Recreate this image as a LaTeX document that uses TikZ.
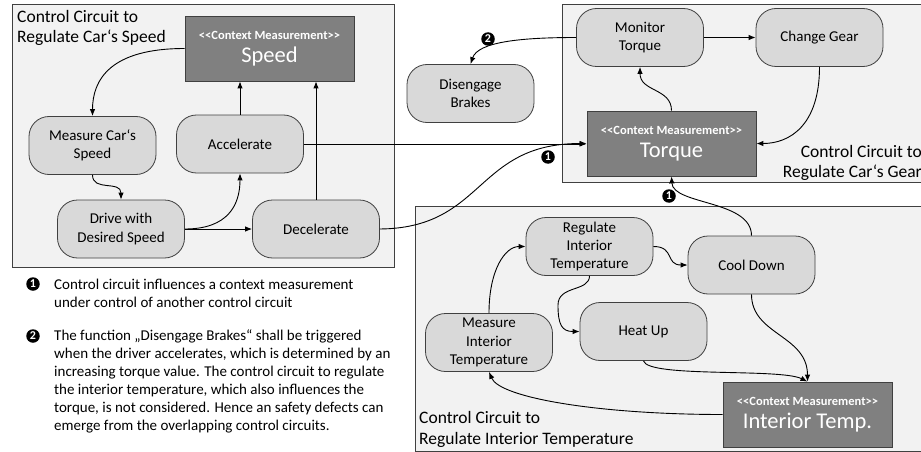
\documentclass[tikz,border=0pt]{standalone}
\usepackage{fontspec}
\setmainfont{Carlito}
\usetikzlibrary{arrows.meta}
\begin{document}
\begin{tikzpicture}[x=1pt,y=-1pt,
  panel/.style={draw=black!75,fill=black!5,line width=0.8pt},
  proc/.style={draw=black!75,fill=black!15,line width=0.8pt,rounded corners=20pt,minimum width=127pt,minimum height=58pt,align=center,inner sep=2pt,font=\fontsize{15}{18.3}\selectfont},
  meas/.style={draw=black!75,fill=black!50,line width=0.8pt,minimum width=169pt,minimum height=65pt,inner sep=0pt},
  stereo/.style={text=white,inner sep=0pt,font=\fontsize{12.5}{14}\selectfont\bfseries},
  bigt/.style={text=white,inner sep=0pt,font=\fontsize{22.5}{26}\selectfont},
  ttl/.style={inner sep=0pt,font=\fontsize{17.5}{20.5}\selectfont},
  arr/.style={-{Latex[length=7pt,width=5.5pt]},line width=0.9pt},
  mk/.style={circle,fill=black,text=white,inner sep=0pt,minimum size=13.5pt,font=\fontsize{12}{12}\selectfont\bfseries},
  legtext/.style={inner sep=0pt,align=left,font=\fontsize{15}{18}\selectfont}
]
\useasboundingbox (0,0) rectangle (921,452);
% panels
\draw[panel] (12,4) rectangle (394,267);
\draw[panel] (562,4) rectangle (930,182);
\draw[panel] (415,206) rectangle (930,451);
% panel titles
\node[ttl,anchor=west,align=left] (t1) at (17,28) {Control Circuit to\\Regulate Car‘s Speed};
\node[ttl,anchor=east,align=right] (t2) at (922,163) {Control Circuit to\\Regulate Car‘s Gear};
\node[ttl,anchor=west,align=left] (t3) at (419,429.5) {Control Circuit to\\Regulate Interior Temperature};
% measurement boxes
\node[meas] (speed) at (269.5,48.5) {};
\node[stereo] (speedS) at (269.5,35) {<\kern0pt<Context Measurement>\kern0pt>};
\node[bigt] (speedB) at (269.5,57) {Speed};
\node[meas] (torque) at (671.5,143.5) {};
\node[stereo] (torqueS) at (671.5,130) {<\kern0pt<Context Measurement>\kern0pt>};
\node[bigt] (torqueB) at (671.5,152) {Torque};
\node[meas] (itemp) at (807.5,414.5) {};
\node[stereo] (itempS) at (807.5,401) {<\kern0pt<Context Measurement>\kern0pt>};
\node[bigt] (itempB) at (807.5,423) {Interior Temp.};
% process nodes
\node[proc] (mcs) at (92.5,145.5) {Measure Car‘s\\Speed};
\node[proc] (acc) at (240,144) {Accelerate};
\node[proc] (drive) at (121,229) {Drive with\\Desired Speed};
\node[proc] (dec) at (316,229) {Decelerate};
\node[proc] (monitor) at (640,37.5) {Monitor\\Torque};
\node[proc] (gear) at (819.5,37.5) {Change Gear};
\node[proc] (dis) at (470.5,93.5) {Disengage\\Brakes};
\node[proc] (reg) at (589.5,246.5) {Regulate\\Interior\\Temperature};
\node[proc] (cool) at (751.5,265) {Cool Down};
\node[proc] (heat) at (643.5,331.5) {Heat Up};
\node[proc] (mit) at (489,342.5) {Measure\\Interior\\Temperature};
% connectors: speed circuit
\draw[arr] (speed.west) .. controls (110,48.5) and (92.5,80) .. (mcs.north);
\draw[arr] (mcs.south) .. controls (92.5,192) and (121,180) .. (drive.north);
\draw[arr] (drive.east) .. controls (228,229) and (240,205) .. (acc.south);
\draw[arr] (drive.east) -- (dec.west);
\draw[arr] (acc.north) -- (acc.north |- speed.south);
\draw[arr] (dec.north) -- (dec.north |- speed.south);
\draw[arr] (acc.east) -- (acc.east -| torque.west);
\draw[arr] (dec.east) .. controls (485,228) and (475,143.5) .. (torque.west);
% gear circuit
\draw[arr] (monitor.east) -- (gear.west);
\draw[arr] (monitor.west) .. controls (520,37.5) and (478,42) .. (dis.north);
\draw[arr] (torque.north) .. controls (671.5,88) and (640,92) .. (monitor.south);
\draw[arr] (gear.south) .. controls (819.5,125) and (790,143.5) .. (torque.east);
\draw[arr] (cool.north) .. controls (751.5,200) and (673,205) .. (torque.south);
% interior temperature circuit
\coordinate (bend) at (558,305);
\draw[arr] (mit.north) .. controls (489,270) and (505,246.5) .. (reg.west);
\draw[arr] (reg.east) .. controls (675,246.5) and (665,265) .. (cool.west);
\draw[arr] (reg.south) .. controls (589.5,292) and (558,285) .. (bend) .. controls (558,325) and (562,331.5) .. (heat.west);
\draw[arr] (heat.south) .. controls (648,378) and (780,368) .. (itemp.north);
\draw[arr] (cool.south) .. controls (751.5,335) and (807.5,335) .. (itemp.north);
\draw[arr] (itemp.west) .. controls (600,414.5) and (500,398) .. (mit.south);
% markers
\node[mk] (m2a) at (488,39) {2};
\node[mk] (m1a) at (548,157) {1};
\node[mk] (m1b) at (669,196) {1};
% legend
\node[mk] (m1c) at (33,284) {1};
\node[mk] (m2b) at (33,336) {2};
\node[legtext,anchor=west] (l1) at (54,293) {Control circuit influences a context measurement\\under control of another control circuit};
\node[legtext,anchor=west] (l2) at (54,381) {The function „Disengage Brakes“ shall be triggered\\when the driver accelerates, which is determined by an\\increasing torque value. The control circuit to regulate\\the interior temperature, which also influences the\\torque, is not considered. Hence an safety defects can\\emerge from the overlapping control circuits.};
\end{tikzpicture}
\end{document}
